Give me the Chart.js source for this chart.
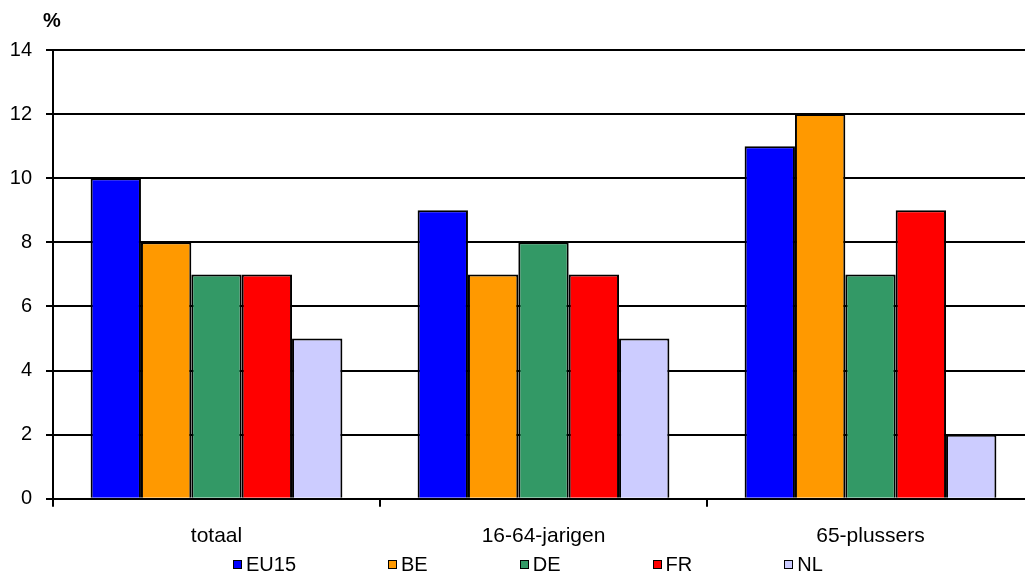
<!DOCTYPE html>
<html lang="nl">
<head>
  <meta charset="UTF-8">
  <title>Staafdiagram</title>
  <script src="https://cdn.jsdelivr.net/npm/chart.js"></script>
  <style>
    html, body { margin: 0; padding: 0; background: #fff; overflow: hidden; }
    .contenedor { position: relative; width: 1040px; height: 574px; }
    .legenda { position: absolute; left: 233px; top: 554px; display: flex; align-items: center;
               font: 20px "Liberation Sans", Arial, sans-serif; line-height: 20px; color: #000; white-space: nowrap; }
    .legenda .item { display: flex; align-items: center; margin-right: 92px; }
    .legenda .box { width: 7px; height: 7px; border: 1px solid #000; margin-right: 4px; margin-top: 1px; }
  </style>
</head>
<body>
  <div class="contenedor">
    <canvas id="grafico"></canvas>
    <div class="legenda" id="legenda"></div>
  </div>

  <script>
    const categorieen = ['totaal', '16-64-jarigen', '65-plussers'];
    const landen = ['EU15', 'BE', 'DE', 'FR', 'NL'];
    const kleuren = ['#0000FF', '#FF9900', '#339966', '#FF0000', '#CCCCFF'];
    // waarden per land: totaal, 16-64, 65+
    const EU15 = [10, 9, 11];
    const BE = [8, 7, 12];
    const DE = [7, 8, 7];
    const FR = [7, 7, 9];
    const NL = [5, 5, 2];
    const yTicks = [0, 2, 4, 6, 8, 10, 12, 14];

    const reeksen = [EU15, BE, DE, FR, NL];
    const fontFam = '"Liberation Sans", Arial, sans-serif';

    const datasets = landen.map((l, i) => ({
      label: l,
      data: reeksen[i],
      backgroundColor: kleuren[i],
      borderColor: '#000',
      borderWidth: 2,
      categoryPercentage: 0.77,
      barPercentage: 1.0
    }));

    // het "%" boven de y-as
    const procentPlugin = {
      id: 'procent',
      afterDraw(chart) {
        const c = chart.ctx;
        c.save();
        c.font = 'bold 20px ' + fontFam;
        c.fillStyle = '#000';
        c.textAlign = 'left';
        c.textBaseline = 'middle';
        c.fillText('%', 43, 21);
        c.restore();
      }
    };

    const chart = new Chart(document.getElementById('grafico').getContext('2d'), {
      type: 'bar',
      data: { labels: categorieen, datasets: datasets },
      options: {
        responsive: true,
        maintainAspectRatio: false,
        animation: false,
        layout: { padding: { top: 50, right: 6, bottom: 8, left: 0 } },
        plugins: {
          legend: { display: false },
          tooltip: { enabled: false }
        },
        scales: {
          x: {
            grid: { offset: true, drawOnChartArea: false, color: '#000', lineWidth: 2, tickLength: 8 },
            border: { color: '#000', width: 2 },
            ticks: { color: '#000', font: { family: fontFam, size: 21 }, padding: 17 }
          },
          y: {
            min: 0,
            max: 14,
            afterBuildTicks(s) { s.ticks = yTicks.map(v => ({ value: v })); },
            afterFit(s) { s.width = 53; },
            grid: { color: '#000', lineWidth: 2, tickLength: 7 },
            border: { color: '#000', width: 2 },
            ticks: { color: '#000', font: { family: fontFam, size: 20 }, padding: 14 }
          }
        }
      },
      plugins: [procentPlugin]
    });

    const leg = document.getElementById('legenda');
    landen.forEach((l, i) => {
      const item = document.createElement('span');
      item.className = 'item';
      const box = document.createElement('span');
      box.className = 'box';
      box.style.background = kleuren[i];
      item.appendChild(box);
      item.appendChild(document.createTextNode(l));
      leg.appendChild(item);
    });
  </script>
</body>
</html>
